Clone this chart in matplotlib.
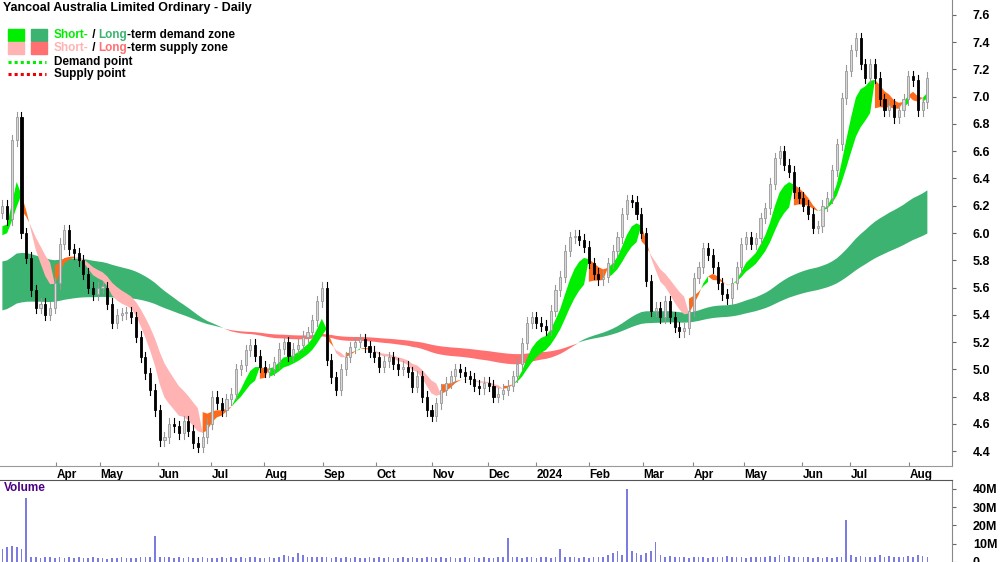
import matplotlib
matplotlib.use("Agg")
import matplotlib.pyplot as plt
import numpy as np
from matplotlib.patches import Rectangle
from matplotlib.lines import Line2D

plt.rcParams['font.family'] = ['Liberation Sans', 'DejaVu Sans']

closes = [6.2,6.1,6.68,6.85,6.0,5.82,5.58,5.45,5.48,5.4,5.45,5.63,5.92,6.02,5.88,5.85,5.8,5.7,5.6,5.55,
          5.6,5.6,5.48,5.34,5.4,5.41,5.42,5.38,5.24,5.09,4.97,4.85,4.7,4.48,4.5,4.6,4.58,4.53,4.62,4.55,
          4.46,4.43,4.5,4.6,4.8,4.75,4.7,4.78,4.82,5.0,5.03,5.14,5.18,5.1,5.02,4.98,5.0,5.05,5.15,5.2,
          5.1,5.15,5.18,5.24,5.27,5.36,5.5,5.6,
          5.07,4.94,4.85,5.0,5.09,5.16,5.2,5.22,5.17,5.13,5.09,5.02,5.06,5.09,5.04,5.0,5.02,4.98,4.87,4.95,
          4.8,4.7,4.66,4.75,4.85,4.9,4.95,5.0,4.98,4.95,4.93,4.88,4.86,4.9,4.88,4.8,4.82,4.85,4.88,4.95,
          5.04,5.19,5.34,5.38,5.34,5.32,5.29,5.43,5.58,5.68,5.87,5.97,5.98,5.95,5.9,5.78,5.7,5.66,5.68,5.78,
          5.87,5.97,6.14,6.24,6.23,6.14,6.0,
          5.65,5.43,5.45,5.38,5.5,5.38,5.31,5.28,5.3,5.43,5.67,5.75,5.89,5.84,5.75,5.63,5.55,5.52,5.63,5.75,
          5.92,5.97,5.92,5.96,6.11,6.18,6.36,6.55,6.6,6.5,6.45,6.3,6.26,6.2,6.14,6.04,6.05,6.2,6.26,6.46,
          6.65,6.99,7.19,7.34,7.43,7.24,7.14,7.24,7.14,6.98,6.9,6.94,6.85,6.9,6.98,7.15,7.12,6.9,6.96,7.14]

volumes_m = ([7,8,9,8,7,35] +
             [3,2.5,2,3,2.5,2,3,2,2.5,2,3,2,2,2.5,2,2,1.5,2,2,2.5,2,2,2,2.5,3,3] + [14] +
             [3,2.5,3,2,2.5,2,3,2,2,2.5,2,2,2,2.5,2,3,2,2.5,2,3,2.5,2,2,2.5,2,3,4,3.5,3,5,4,3,2.5,3,2.5] +
             [3,2,2.5,2,3,2,2.5,2,2,2.5,2,3,2,2.5,2,2,3,2,2.5,2,2,2.5,3,2,2.5,2,3,2,2,2.5,2,2.5,2,3,2,2,2.5,3] + [13] +
             [3,2.5,2,3,2.5,2,3,2.5,2,3] + [7] + [3,2.5,3,2,2.5,2,3,2.5,3,4,5,6,4] + [40] + [6,5,4] +
             [5,6] + [11] +
             [4,3,3.5,3,2.5,3,2,3,2.5,3,2,3,2.5,3,3.5,3,2.5,3,2,2.5,3,2.5,3,3.5,3,4,3,3.5,3,2.5,3,2.5,2,2.5,2,2.5,2,2.5,3] + [23] +
             [4,3,3.5,3,2.5,3,4,3,3.5,3,2.5,3,3.5,3,4,3.5,3])

# EMA starting levels at the first bar
short_start = [6.0, 5.95]
long_start = [5.78, 5.42]
short_spans = [7, 14]
long_spans = [75, 130]

month_labels = ['Apr','May','Jun','Jul','Aug','Sep','Oct','Nov','Dec','2024','Feb','Mar','Apr','May','Jun','Jul','Aug']
month_px = [54,98,156,209,262,321,374,430,486,534,587,641,691,742,800,848,907]
price_ticks = [4.4,4.6,4.8,5.0,5.2,5.4,5.6,5.8,6.0,6.2,6.4,6.6,6.8,7.0,7.2,7.4,7.6]
vol_ticks = [0,10,20,30,40]
vol_labels = ['0','10M','20M','30M','40M']

c = np.array(closes)
n = len(c)
x = np.arange(n)

def ema(vals, span, start):
    a = 2.0 / (span + 1)
    out = np.empty(len(vals)); prev = start
    for i, v in enumerate(vals):
        prev = prev + a * (v - prev); out[i] = prev
    return out

sf, ss = ema(c, short_spans[0], short_start[0]), ema(c, short_spans[1], short_start[1])
lf, ls = ema(c, long_spans[0], long_start[0]), ema(c, long_spans[1], long_start[1])

W, H = 1000, 562
fig = plt.figure(figsize=(10, 5.62), dpi=100)
axw = 952 / W
ax = fig.add_axes([0, 1 - 466 / H, axw, 466 / H])
axv = fig.add_axes([0, 0, axw, 82 / H])

px_per = 925 / (n - 1)
xmax = 952 / px_per
ax.set_xlim(-0.5, xmax - 0.5)
axv.set_xlim(-0.5, xmax - 0.5)
ax.set_ylim(4.4 - 15 / 136.3, 7.6 + 15 / 136.3)

GREEN, DGREEN, PINK, SALMON, ORANGE = '#00EE00', '#3CB371', '#FFB3B3', '#FF7070', '#FF6A1A'

# long band
up = lf >= ls
ax.fill_between(x, lf, ls, where=up, color=DGREEN, lw=0, interpolate=True, zorder=1)
steep = (~up) & (np.abs(lf - ls) > 0.1)
ax.fill_between(x, lf, ls, where=(~up) & steep, color=ORANGE, lw=0, interpolate=True, zorder=1)
ax.fill_between(x, lf, ls, where=(~up) & (~steep), color=SALMON, lw=0, interpolate=True, zorder=1)

# short band
ds = np.gradient(sf)
g = (sf >= ss) & (ds >= 0)
p = (sf < ss) & (ds < 0)
o = ~(g | p)
ax.fill_between(x, sf, ss, where=g, color=GREEN, lw=0, interpolate=True, zorder=2)
ax.fill_between(x, sf, ss, where=p, color=PINK, lw=0, interpolate=True, zorder=2)
ax.fill_between(x, sf, ss, where=o, color=ORANGE, lw=0, interpolate=True, zorder=2)

# candles
opens = np.concatenate([[c[0] - 0.05], c[:-1]])
for i in range(n):
    o_, cl = opens[i], c[i]
    hi = max(o_, cl) + 0.04; lo = min(o_, cl) - 0.04
    upc = cl >= o_
    col = '#999999' if upc else 'black'
    ax.plot([i, i], [lo, hi], color=col, lw=0.8, zorder=3)
    ax.add_patch(Rectangle((i - 0.22, min(o_, cl)), 0.44, max(abs(cl - o_), 0.01),
                           facecolor='#D8D8D8' if upc else 'black', edgecolor=col, lw=0.6, zorder=4))

for a in (ax, axv):
    a.spines['left'].set_visible(False)
    a.spines['top'].set_visible(False)
    a.yaxis.tick_right()
    a.tick_params(axis='y', direction='out', length=3, color='#666666', pad=12)
ax.spines['right'].set_color('#888888')
ax.spines['bottom'].set_color('#999999')
ax.set_yticks(price_ticks)
ax.set_yticklabels([f'{t:.1f}' for t in price_ticks], fontsize=9, fontweight='bold')
ax.set_xticks([p_ / px_per for p_ in month_px])
ax.set_xticklabels(month_labels, fontsize=8.5, fontweight='bold', ha='left')
ax.tick_params(axis='x', direction='in', length=3, pad=2, color='#888888')

axv.bar(x, volumes_m, width=0.35, color='#7B7BE0', zorder=2)
axv.set_ylim(0, 44.9)
axv.set_yticks(vol_ticks)
axv.set_yticklabels(vol_labels, fontsize=9, fontweight='bold')
axv.set_xticks([])
axv.spines['top'].set_visible(True)
axv.spines['top'].set_color('#555555')
axv.spines['bottom'].set_visible(False)
axv.spines['right'].set_color('#888888')
axv.text(0.004, 0.9, 'Volume', transform=axv.transAxes, color='#4B0082', fontsize=8.5,
         fontweight='bold', va='center')

# title & legend
fig.text(0.003, 1 - 8 / H, 'Yancoal Australia Limited Ordinary - Daily', fontsize=9,
         fontweight='bold', va='center')
fig.canvas.draw()
r = fig.canvas.get_renderer()

def seq(xpx, ypx, parts):
    xx = xpx
    for s, col in parts:
        t = fig.text(xx / W, 1 - ypx / H, s, color=col, fontsize=8.5, fontweight='bold', va='center')
        xx += t.get_window_extent(renderer=r).width

def patch(xpx, ypx, col):
    fig.patches.append(Rectangle((xpx / W, 1 - (ypx + 6) / H), 16 / W, 12 / H, color=col,
                                 transform=fig.transFigure, figure=fig))

patch(8, 35, GREEN); patch(31, 35, DGREEN)
patch(8, 48, PINK); patch(31, 48, SALMON)
seq(54, 35, [('Short-', GREEN), (' / ', 'black'), ('Long', DGREEN), ('-term demand zone', 'black')])
seq(54, 48, [('Short-', PINK), (' / ', 'black'), ('Long', SALMON), ('-term supply zone', 'black')])
fig.lines.append(Line2D([8 / W, 46 / W], [1 - 62 / H] * 2, color=GREEN, lw=2.2, ls=(0, (1, 1)),
                        transform=fig.transFigure))
fig.lines.append(Line2D([8 / W, 46 / W], [1 - 74 / H] * 2, color='#EE0000', lw=2.2, ls=(0, (1, 1)),
                        transform=fig.transFigure))
seq(54, 62, [('Demand point', 'black')])
seq(54, 74, [('Supply point', 'black')])

fig.savefig('out.png', dpi=100)
